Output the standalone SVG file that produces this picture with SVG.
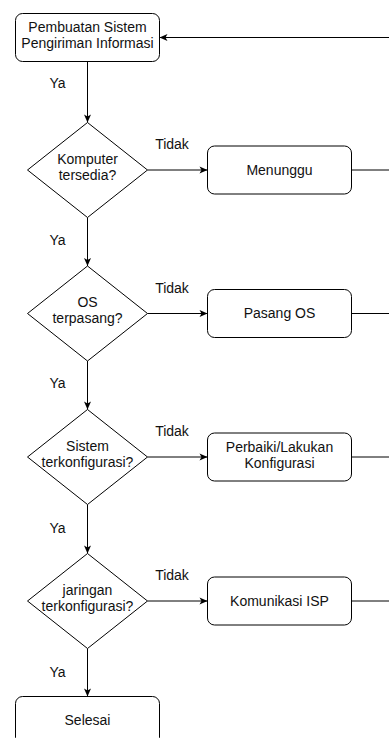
<svg xmlns="http://www.w3.org/2000/svg" width="389" height="738" viewBox="0 0 389 738">
<style>
.box{fill:#fff;stroke:#000;stroke-width:1}
.dia{fill:#fff;stroke:#000;stroke-width:1}
.t{font-family:"Liberation Sans",Helvetica,Arial,sans-serif;font-size:14px;fill:#111;text-anchor:middle}
.c{fill:none;stroke:#000;stroke-width:1}
.ca{fill:none;stroke:#000;stroke-width:1;marker-end:url(#ah)}
</style>
<defs>
<marker id="ah" markerUnits="userSpaceOnUse" markerWidth="9" markerHeight="8" refX="8" refY="3.5" orient="auto" overflow="visible">
<path d="M0,0 L8,3.5 L0,7 L2,3.5 Z" fill="#000"/>
</marker>
</defs>
<rect width="389" height="738" fill="#fff"/>
<g id="connectors">
<path class="ca" d="M87.5,61.5 V122.5"/>
<path class="ca" d="M87.5,217.5 V266"/>
<path class="ca" d="M87.5,361 V409.5"/>
<path class="ca" d="M87.5,504.5 V553.5"/>
<path class="ca" d="M87.5,648.5 V696.5"/>
<path class="ca" d="M147.5,170 H207.5"/>
<path class="ca" d="M147.5,313.5 H207.5"/>
<path class="ca" d="M147.5,457 H207.5"/>
<path class="ca" d="M147.5,601 H207.5"/>
<path class="c" d="M351.5,170 H389"/>
<path class="c" d="M351.5,313.5 H389"/>
<path class="c" d="M351.5,457 H389"/>
<path class="c" d="M351.5,601 H389"/>
<path class="ca" d="M389,37.5 H159.5"/>
<text class="t" x="57.5" y="88">Ya</text>
<text class="t" x="57.5" y="245">Ya</text>
<text class="t" x="57.5" y="388">Ya</text>
<text class="t" x="57.5" y="532.5">Ya</text>
<text class="t" x="57.5" y="677">Ya</text>
<text class="t" x="172" y="149">Tidak</text>
<text class="t" x="172" y="292.5">Tidak</text>
<text class="t" x="172" y="436">Tidak</text>
<text class="t" x="172" y="580">Tidak</text>
</g>
<g id="start">
<rect class="box" x="15.5" y="13.5" width="144" height="48" rx="7"/>
<text class="t" x="87.5" y="31.5">Pembuatan Sistem</text>
<text class="t" x="87.5" y="47.5">Pengiriman Informasi</text>
</g>
<g id="d1">
<path class="dia" d="M87.5,122.5 L147.5,170 L87.5,217.5 L27.5,170 Z"/>
<text class="t" x="87.5" y="163.5">Komputer</text>
<text class="t" x="87.5" y="179.5">tersedia?</text>
</g>
<g id="b1">
<rect class="box" x="207.5" y="146" width="144" height="48" rx="7"/>
<text class="t" x="279.5" y="174.5">Menunggu</text>
</g>
<g id="d2">
<path class="dia" d="M87.5,266 L147.5,313.5 L87.5,361 L27.5,313.5 Z"/>
<text class="t" x="87.5" y="307">OS</text>
<text class="t" x="87.5" y="323">terpasang?</text>
</g>
<g id="b2">
<rect class="box" x="207.5" y="289.5" width="144" height="48" rx="7"/>
<text class="t" x="279.5" y="318">Pasang OS</text>
</g>
<g id="d3">
<path class="dia" d="M87.5,409.5 L147.5,457 L87.5,504.5 L27.5,457 Z"/>
<text class="t" x="87.5" y="450.5">Sistem</text>
<text class="t" x="87.5" y="466.5">terkonfigurasi?</text>
</g>
<g id="b3">
<rect class="box" x="207.5" y="433" width="144" height="48" rx="7"/>
<text class="t" x="279.5" y="451.5">Perbaiki/Lakukan</text>
<text class="t" x="279.5" y="467.5">Konfigurasi</text>
</g>
<g id="d4">
<path class="dia" d="M87.5,553.5 L147.5,601 L87.5,648.5 L27.5,601 Z"/>
<text class="t" x="87.5" y="594.5">jaringan</text>
<text class="t" x="87.5" y="610.5">terkonfigurasi?</text>
</g>
<g id="b4">
<rect class="box" x="207.5" y="577" width="144" height="48" rx="7"/>
<text class="t" x="279.5" y="605.5">Komunikasi ISP</text>
</g>
<g id="end">
<rect class="box" x="15.5" y="696.5" width="144" height="48" rx="7"/>
<text class="t" x="87.5" y="725">Selesai</text>
</g>
</svg>
